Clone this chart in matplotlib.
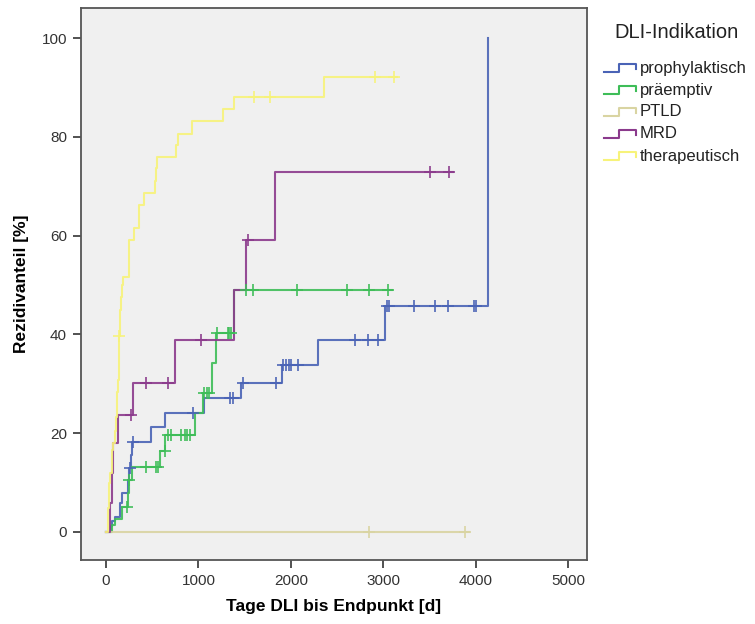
import matplotlib
matplotlib.use('Agg')
import matplotlib.pyplot as plt
from matplotlib.lines import Line2D
import numpy as np

plt.rcParams['font.family'] = ['Liberation Sans', 'DejaVu Sans']

groups = ['prophylaktisch', 'präemptiv', 'PTLD', 'MRD', 'therapeutisch']
colors = ['#4A63B6', '#3EBD58', '#D9D4A2', '#8B3A8C', '#F7F37A']

# event times [d] and cumulative relapse share [%]
proph_t = [0, 50, 70, 97, 150, 170, 240, 250, 270, 285, 491, 634, 1065, 1459, 1906, 2294, 3018, 4129]
proph_y = [0, 1.1, 2.1, 3.1, 5.8, 7.8, 10.5, 12.9, 15.6, 18.3, 21.3, 24.0, 27.1, 30.1, 33.8, 38.9, 45.7, 100]
proph_cens = [258, 294, 939, 1345, 1370, 1476, 1835, 1915, 1945, 1975, 2005, 2075,
              2688, 2831, 2939, 3040, 3060, 3333, 3556, 3699, 3975, 3995]
proph_end = 4129

prae_t = [0, 61, 97, 169, 235, 245, 276, 581, 640, 957, 1046, 1143, 1190, 1387]
prae_y = [0, 1.3, 2.6, 5.1, 7.8, 10.5, 13.2, 16.3, 19.6, 24.0, 28.1, 34.2, 40.2, 49.0]
prae_cens = [230, 250, 437, 545, 562, 634, 670, 705, 813, 850, 880, 903, 1060, 1090, 1118,
             1200, 1316, 1335, 1351, 1513, 1584, 2068, 2605, 2839, 3047]
prae_end = 3090

ptld_t = [0]
ptld_y = [0]
ptld_cens = [2846, 3878]
ptld_end = 3925

mrd_t = [0, 40, 60, 79, 132, 294, 742, 1387, 1513, 1828]
mrd_y = [0, 5.9, 11.9, 18.0, 23.7, 30.1, 38.9, 49.0, 59.1, 72.8]
mrd_cens = [269, 437, 670, 1029, 1530, 3502, 3706]
mrd_end = 3750

ther_t = [0, 18, 25, 31, 38, 43, 61, 70, 78, 97, 106, 115, 123, 132, 137, 140, 141, 150, 154, 166,
          172, 180, 247, 248, 250, 304, 355, 357, 412, 530, 540, 555, 753, 781, 931, 1261, 1387, 2355]
ther_y = [0, 2.4, 4.9, 7.3, 9.8, 12.0, 14.5, 16.5, 18.0, 20.5, 23.3, 25.8, 28.3, 30.8, 33.2, 37.0, 39.7, 42.0, 45.0, 47.5,
          50.0, 51.7, 54.1, 56.6, 59.1, 61.5, 63.9, 66.3, 68.7, 71.1, 73.6, 76.0, 78.3, 80.6, 83.2, 85.6, 88.1, 92.1]
ther_cens = [143, 1600, 1775, 2910, 3118]
ther_end = 3150

series = [
    (proph_t, proph_y, proph_cens, proph_end),
    (prae_t, prae_y, prae_cens, prae_end),
    (ptld_t, ptld_y, ptld_cens, ptld_end),
    (mrd_t, mrd_y, mrd_cens, mrd_end),
    (ther_t, ther_y, ther_cens, ther_end),
]

fig = plt.figure(figsize=(7.55, 6.24), dpi=100)
ax = fig.add_axes([81/755, 1-560/624, 506/755, 552/624])
ax.set_facecolor('#F0F0F0')

for (t, y, cens, end), col in zip(series, colors):
    tt = list(t) + [end]
    yy = list(y) + [y[-1]]
    ax.step(tt, yy, where='post', color=col, lw=1.5, alpha=0.9, zorder=3)
    idx = np.searchsorted(t, cens, side='right') - 1
    cy = np.array(y)[idx]
    ax.plot(cens, cy, ls='none', marker='+', ms=8, mew=1.3, color=col, alpha=0.9, zorder=4)

ax.set_xlim(-270, 5200)
ax.set_ylim(-5.7, 106.1)
ax.set_xticks(np.arange(0, 5001, 1000))
ax.set_yticks(np.arange(0, 101, 20))
ax.tick_params(direction='out', length=6, width=1.2, color='#333333', labelsize=11,
               labelcolor='#333333', pad=4)
for s in ax.spines.values():
    s.set_color('#555555')
    s.set_linewidth(1.3)

ax.set_xlabel('Tage DLI bis Endpunkt [d]', fontsize=12.5, fontweight='bold', labelpad=8)
ax.set_ylabel('Rezidivanteil [%]', fontsize=12.5, fontweight='bold', labelpad=9)

# legend drawn by hand, SPSS style with step glyphs
W, H = 755, 624
fig.text(677/W, 1-33/H, 'DLI-Indikation', ha='center', va='center', fontsize=14.5, color='#222222')
row_y = [68, 90, 112, 134, 156]
for name, col, ry in zip(groups, colors, row_y):
    gx = np.array([604, 619, 619, 636, 636]) / W
    gy = 1 - np.array([ry + 4, ry + 4, ry - 4, ry - 4, ry + 1]) / H
    fig.add_artist(Line2D(gx, gy, color=col, lw=1.5, transform=fig.transFigure))
    fig.text(640/W, 1-ry/H, name, ha='left', va='center', fontsize=12, color='#222222')

fig.savefig('out.png', dpi=100)
